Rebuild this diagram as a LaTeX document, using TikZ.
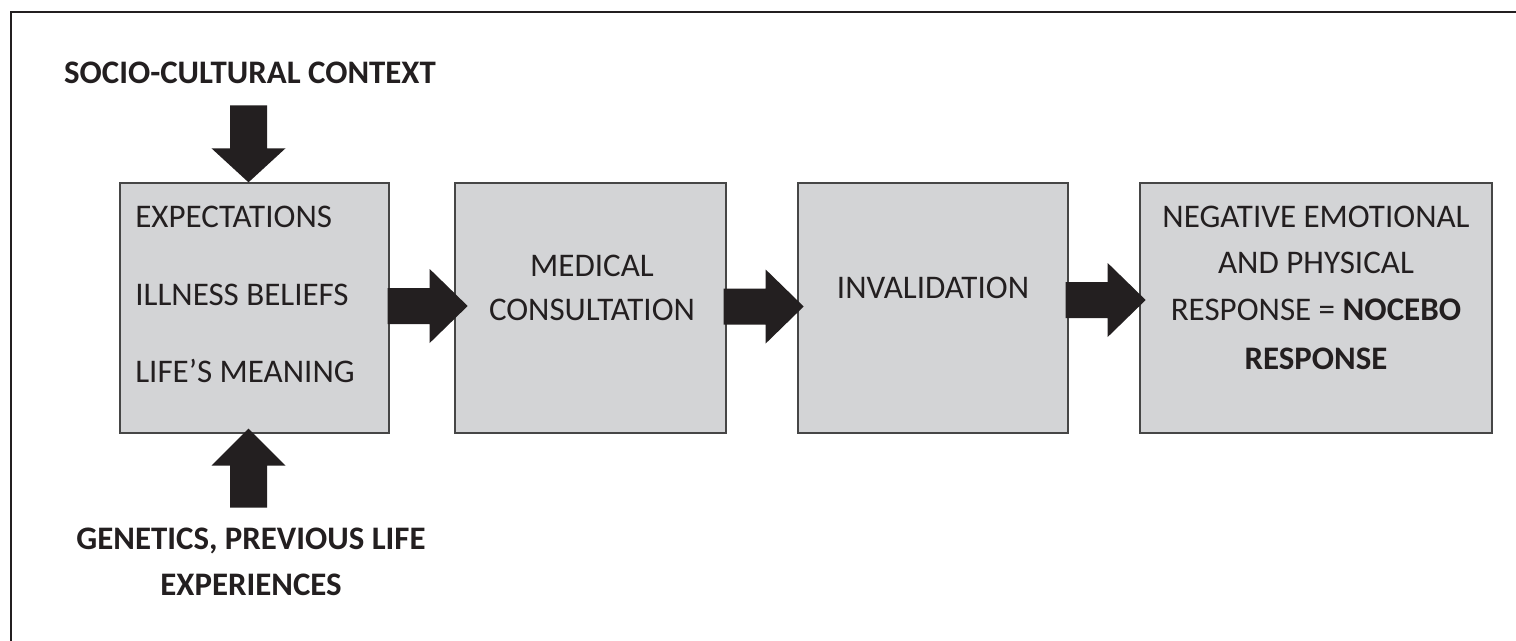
\documentclass[tikz,border=0pt]{standalone}
\usepackage{fontspec}
\setmainfont{Carlito}
\usetikzlibrary{calc}

\definecolor{ink}{RGB}{35,31,32}
\definecolor{boxfill}{RGB}{211,212,214}
\definecolor{boxline}{RGB}{70,70,70}

% block arrow pointing right, starting at the given point (shaft centre)
\newcommand\rightblockarrow[1]{%
  \fill[blockfill] (#1) ++(0,-18) -- ++(42,0) -- ++(0,-19) -- ++(38,37)
    -- ++(-38,37) -- ++(0,-19) -- ++(-42,0) -- cycle;}

\begin{document}
\begin{tikzpicture}[x=0.02cm,y=-0.02cm,
  frame/.style={draw=ink,line width=1.7pt},
  box/.style={draw=boxline,fill=boxfill,line width=0.8pt,inner sep=0pt},
  blockfill/.style={fill=ink},
  txt/.style={inner sep=0pt,anchor=base,text=ink,font=\fontsize{18.8}{22}\selectfont},
  btxt/.style={txt,font=\fontsize{18.7}{22}\selectfont\bfseries}]
\clip (0,0) rectangle (1516,640);
\fill[white] (0,0) rectangle (1516,640);

% outer frame (runs off the right and bottom edges)
\draw[frame] (11,660) -- (11,12) -- (1540,12);

% process boxes
\node[box,minimum width=5.38cm,minimum height=5.0cm] (b1) at (254.5,308) {};
\node[box,minimum width=5.42cm,minimum height=5.0cm] (b2) at (590.5,308) {};
\node[box,minimum width=5.40cm,minimum height=5.0cm] (b3) at (933,308) {};
\node[box,minimum width=7.04cm,minimum height=5.0cm] (b4) at (1316,308) {};

% box texts
\node[txt,anchor=base west] (e1) at (135,227) {EXPECTATIONS};
\node[txt,anchor=base west] (e2) at (135,305) {ILLNESS BELIEFS};
\node[txt,anchor=base west] (e3) at (135,382) {LIFE’S MEANING};

\node[txt] (m1) at (592,276) {MEDICAL};
\node[txt] (m2) at (592,320) {CONSULTATION};

\node[txt] (inv) at (933,298) {INVALIDATION};

\node[txt] (n1) at (1316,227) {NEGATIVE EMOTIONAL};
\node[txt] (n2) at (1316,273) {AND PHYSICAL};
\node[txt] (n3) at (1316,320) {RESPONSE = \textbf{NOCEBO}};
\node[btxt] (n4) at (1316,369) {RESPONSE};

% influences on the first box
\node[btxt] (soc) at (250,83) {SOCIO-CULTURAL CONTEXT};
\node[btxt] (gen1) at (251,549) {GENETICS, PREVIOUS LIFE};
\node[btxt] (gen2) at (251,595) {EXPERIENCES};

% vertical block arrows into the first box
\fill[blockfill] ($(b1.north)+(-6,0)$) -- ++(-37,-34) -- ++(18.5,0) -- ++(0,-43)
  -- ++(37,0) -- ++(0,43) -- ++(18.5,0) -- cycle;
\fill[blockfill] ($(b1.south)+(-6,-5)$) -- ++(-37,37) -- ++(18.5,0) -- ++(0,42)
  -- ++(37,0) -- ++(0,-42) -- ++(18.5,0) -- cycle;

% horizontal block arrows between the boxes
\rightblockarrow{$(b1.east)+(-2,-2)$}
\rightblockarrow{$(b2.east)+(-3,-1.5)$}
\rightblockarrow{$(b3.east)+(-3,-8)$}
\end{tikzpicture}
\end{document}
